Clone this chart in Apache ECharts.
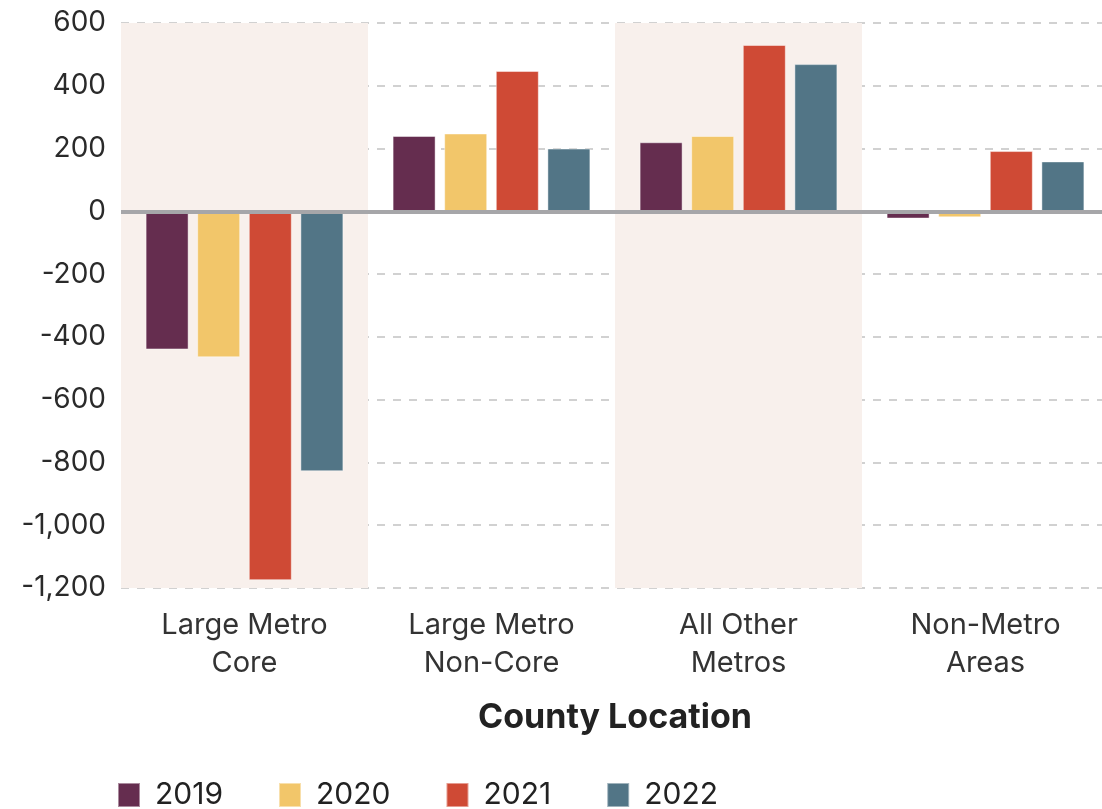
<!DOCTYPE html>
<html>
<head>
<meta charset="utf-8">
<script src="https://cdn.jsdelivr.net/npm/echarts@6/dist/echarts.min.js"></script>
<style>
  html, body { margin: 0; padding: 0; background: #fff; }
  #chart { width: 1102px; height: 809px; }
</style>
</head>
<body>
<div id="chart"></div>
<script>
// county location categories
const categories = ['Large Metro\nCore', 'Large Metro\nNon-Core', 'All Other\nMetros', 'Non-Metro\nAreas']
const years = ['2019', '2020', '2021', '2022']

// values per year, one per category
const data2019 = [-440, 240, 220, -23]
const data2020 = [-465, 248, 240, -19]
const data2021 = [-1175, 447, 530, 192]
const data2022 = [-828, 200, 469, 159]

const colors = ['#652d4f', '#f2c66a', '#cf4a35', '#527586']
const fontFamily = 'Inter, "Open Sans", sans-serif'

const chart = echarts.init(document.getElementById('chart'))

const seriesData = [data2019, data2020, data2021, data2022]
const series = years.map((name, i) => ({
  name: name,
  type: 'bar',
  data: seriesData[i],
  barWidth: 43,
  barGap: '20%',
  itemStyle: {
    color: colors[i],
    borderColor: 'rgba(255,255,255,0.45)',
    borderWidth: 1
  }
}))

// zero line drawn over the bars
series[0].markLine = {
  silent: true,
  symbol: 'none',
  z: 10,
  label: { show: false },
  lineStyle: { color: '#a6a6a9', width: 4, type: 'solid' },
  data: [{ yAxis: 0 }]
}

chart.setOption({
  animation: false,
  color: colors,
  textStyle: { fontFamily: fontFamily },
  grid: { left: 121, top: 23, width: 988, bottom: 221, containLabel: false, outerBoundsMode: 'none' },
  legend: {
    top: 775,
    left: 112,
    itemWidth: 22,
    itemHeight: 24,
    itemGap: 55,
    icon: 'rect',
    data: years,
    textStyle: { fontSize: 30, color: '#222', padding: [0, 0, 0, 10], fontFamily: fontFamily }
  },
  xAxis: {
    type: 'category',
    data: categories,
    name: 'County Location',
    nameLocation: 'middle',
    nameGap: 113,
    nameTextStyle: { fontSize: 34, fontWeight: 'bold', color: '#222' },
    axisLine: { show: false, onZero: false },
    axisTick: { show: false },
    axisLabel: { fontSize: 29, color: '#333', lineHeight: 38, margin: 18 },
    splitArea: {
      show: true,
      areaStyle: { color: ['#f8f0ec', 'rgba(255,255,255,0)'] }
    }
  },
  yAxis: {
    type: 'value',
    min: -1200,
    max: 600,
    interval: 200,
    axisLine: { show: false },
    axisTick: { show: false },
    axisLabel: {
      fontSize: 28,
      color: '#2a2a2a',
      margin: 15,
      formatter: v => v.toLocaleString('en-US')
    },
    splitLine: { lineStyle: { color: '#c2c2c2', width: 1.5, type: [8, 8] } }
  },
  series: series
})
</script>
</body>
</html>
